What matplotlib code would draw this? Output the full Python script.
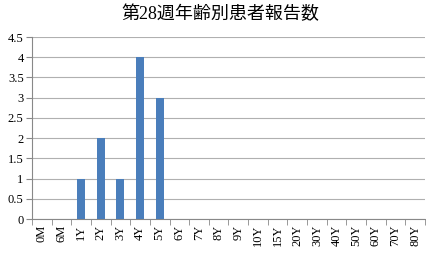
import matplotlib
matplotlib.use("Agg")
import matplotlib.pyplot as plt
import numpy as np

plt.rcParams['font.family'] = ['Liberation Serif', 'Noto Sans CJK JP']

# データ
categories = ["0M", "6M", "1Y", "2Y", "3Y", "4Y", "5Y", "6Y", "7Y", "8Y", "9Y",
              "10Y", "15Y", "20Y", "30Y", "40Y", "50Y", "60Y", "70Y", "80Y"]
counts = [0, 0, 1, 2, 1, 4, 3, 0, 0, 0, 0, 0, 0, 0, 0, 0, 0, 0, 0, 0]
title = "第28週年齢別患者報告数"

fig = plt.figure(figsize=(4.27, 2.56), dpi=100)
ax = fig.add_axes([32 / 427, 1 - 219 / 256, 393 / 427, 182 / 256])

x = np.arange(len(categories))
ax.bar(x, counts, width=0.4, color="#4a7ebb", zorder=3)

ax.set_xlim(-0.5, len(categories) - 0.5)
ax.set_ylim(0, 4.5)
ax.set_yticks(np.arange(0, 4.51, 0.5))
ax.set_yticklabels(["0", "0.5", "1", "1.5", "2", "2.5", "3", "3.5", "4", "4.5"], fontsize=9)
ax.set_xticks(x)
ax.set_xticklabels(categories, rotation=90, fontsize=9)
ax.tick_params(axis="x", length=0, pad=4)
ax.set_xticks(np.arange(-0.5, len(categories), 1), minor=True)
ax.tick_params(axis="x", which="minor", length=4, color="#888888", direction="out")
ax.tick_params(axis="y", length=4, color="#888888", pad=2)

ax.grid(axis="y", color="#b0b0b0", linewidth=0.8, zorder=0)
for s in ["top", "right"]:
    ax.spines[s].set_visible(False)
ax.spines["left"].set_color("#888888")
ax.spines["bottom"].set_color("#888888")

fig.text(0.515, 0.945, title, ha="center", va="center", fontsize=13)

fig.savefig("out.png", dpi=100)
